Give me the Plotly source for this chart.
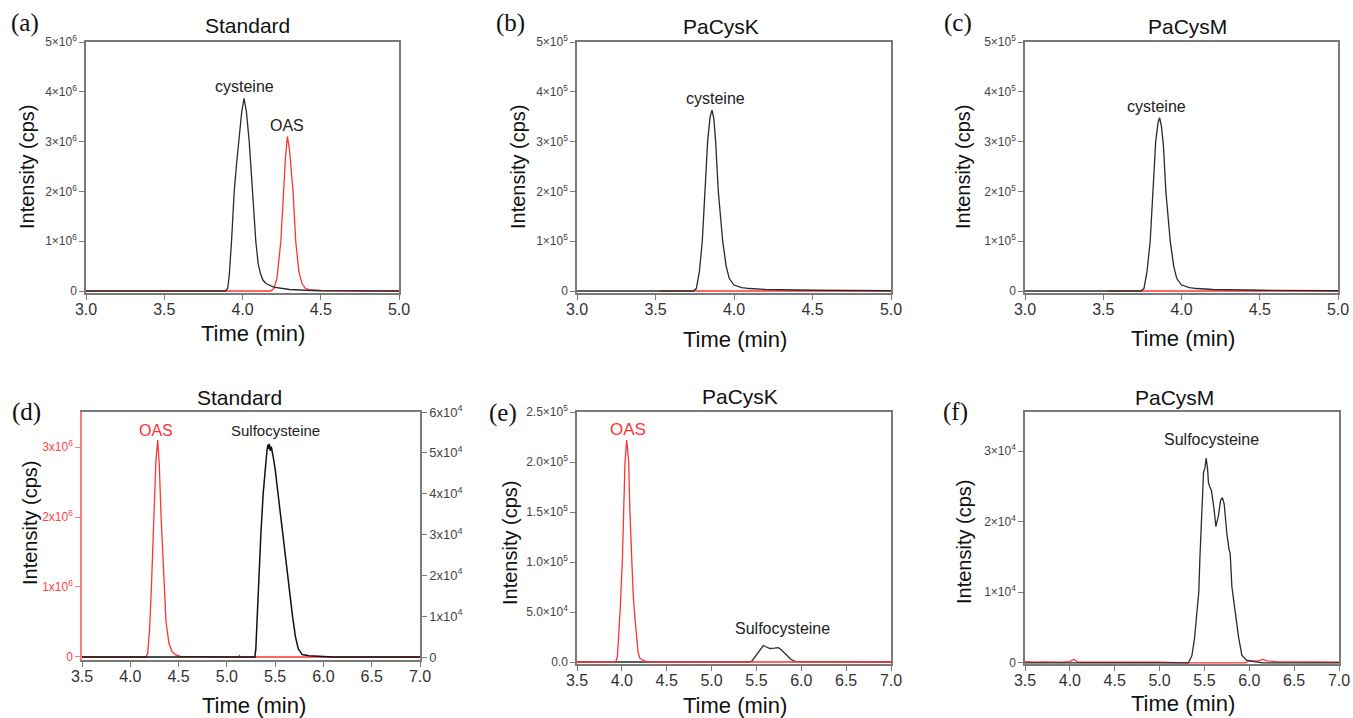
import plotly.graph_objects as go

W, H = 1353, 718
FONT = "Arial, Liberation Sans, sans-serif"
SERIF = "Times New Roman, Liberation Serif, serif"
BLACK = "#2b2b2b"
RED = "#ff3333"
AXIS = "#7a7a7a"

# ---------------- (a) Standard, cysteine / OAS ----------------
a_time_cys = [3.00, 3.89, 3.905, 3.915, 3.93, 3.947, 3.962, 3.977, 3.995, 4.01, 4.025, 4.043,
              4.064, 4.085, 4.10, 4.115, 4.13, 4.15, 4.20, 4.25, 4.30, 4.40, 4.50, 5.00]
a_cys = [0, 0, 0.05e6, 0.3e6, 1.0e6, 2.0e6, 2.55e6, 3.0e6, 3.6e6, 3.87e6, 3.6e6, 3.0e6,
         2.0e6, 1.0e6, 0.55e6, 0.35e6, 0.22e6, 0.15e6, 0.08e6, 0.05e6, 0.03e6, 0.015e6, 0.005e6, 0]
a_time_oas = [3.00, 4.18, 4.20, 4.22, 4.245, 4.262, 4.275, 4.287, 4.30, 4.323, 4.34, 4.36,
              4.38, 4.40, 4.43, 4.50, 5.00]
a_oas = [0, 0, 0.05e6, 0.25e6, 1.0e6, 2.0e6, 2.7e6, 3.1e6, 2.85e6, 2.0e6, 1.0e6, 0.4e6,
         0.15e6, 0.06e6, 0.02e6, 0.01e6, 0]

# ---------------- (b) PaCysK, cysteine ----------------
b_time_cys = [3.00, 3.74, 3.76, 3.78, 3.798, 3.815, 3.832, 3.848, 3.86, 3.872, 3.883, 3.90,
              3.928, 3.95, 3.97, 4.00, 4.05, 4.10, 4.20, 4.50, 5.00]
b_cys = [0, 0, 0.05e5, 0.4e5, 1.0e5, 2.0e5, 3.0e5, 3.5e5, 3.63e5, 3.45e5, 3.0e5, 2.0e5,
         1.0e5, 0.5e5, 0.25e5, 0.12e5, 0.07e5, 0.05e5, 0.03e5, 0.015e5, 0.005e5]
b_time_oas = [3.53, 5.00]
b_oas = [0, 0]

# ---------------- (c) PaCysM, cysteine ----------------
c_time_cys = [3.00, 3.74, 3.76, 3.78, 3.80, 3.817, 3.835, 3.85, 3.86, 3.872, 3.885, 3.90,
              3.928, 3.95, 3.97, 4.00, 4.05, 4.10, 4.20, 4.50, 5.00]
c_cys = [0, 0, 0.05e5, 0.4e5, 1.0e5, 2.0e5, 3.0e5, 3.38e5, 3.48e5, 3.3e5, 2.9e5, 2.0e5,
         1.0e5, 0.5e5, 0.25e5, 0.12e5, 0.07e5, 0.05e5, 0.03e5, 0.015e5, 0.005e5]
c_time_oas = [3.53, 5.00]
c_oas = [0, 0]

# ---------------- (d) Standard, OAS (left axis) / sulfocysteine (right axis) ----------------
d_time_oas = [3.50, 4.16, 4.18, 4.20, 4.219, 4.246, 4.265, 4.284, 4.30, 4.319, 4.35, 4.37,
              4.40, 4.43, 4.47, 4.52, 5.12, 5.13, 5.14, 7.00]
d_oas = [0, 0, 0.05e6, 0.4e6, 1.0e6, 2.0e6, 2.8e6, 3.1e6, 2.75e6, 2.0e6, 1.0e6, 0.5e6,
         0.2e6, 0.08e6, 0.03e6, 0.01e6, 0, 0.02e6, 0, 0]
d_time_sulfo = [3.50, 5.29, 5.30, 5.314, 5.33, 5.352, 5.376, 5.40, 5.415, 5.425, 5.435, 5.44,
                5.45, 5.46, 5.47, 5.48, 5.50, 5.515, 5.53, 5.555, 5.577, 5.60, 5.625, 5.65,
                5.68, 5.71, 5.74, 5.78, 5.85, 6.00, 6.10, 7.00]
d_sulfo = [0, 0, 0.2e4, 1.0e4, 2.0e4, 3.0e4, 4.0e4, 4.8e4, 5.05e4, 5.2e4, 5.1e4, 5.22e4,
           5.05e4, 5.15e4, 4.95e4, 4.9e4, 4.6e4, 4.3e4, 4.0e4, 3.5e4, 3.0e4, 2.5e4, 2.0e4, 1.5e4,
           1.0e4, 0.5e4, 0.2e4, 0.06e4, 0.03e4, 0.01e4, 0, 0]

# ---------------- (e) PaCysK, OAS / sulfocysteine ----------------
e_time_oas = [3.50, 3.93, 3.95, 3.97, 3.98, 4.005, 4.02, 4.035, 4.054, 4.076, 4.09, 4.109,
              4.125, 4.14, 4.16, 4.18, 4.20, 4.25, 4.30, 7.00]
e_oas = [0, 0, 0.05e5, 0.3e5, 0.5e5, 1.0e5, 1.5e5, 2.0e5, 2.22e5, 2.0e5, 1.5e5, 1.0e5,
         0.7e5, 0.5e5, 0.25e5, 0.1e5, 0.04e5, 0.01e5, 0, 0]
e_time_sulfo = [3.50, 5.42, 5.45, 5.50, 5.55, 5.577, 5.60, 5.65, 5.70, 5.745, 5.78, 5.83,
                5.88, 5.92, 5.95, 6.20, 7.00]
e_sulfo = [0, 0, 0.1e4, 0.7e4, 1.4e4, 1.65e4, 1.55e4, 1.35e4, 1.38e4, 1.43e4, 1.2e4, 0.7e4,
           0.3e4, 0.08e4, 0.03e4, 0.01e4, 0]

# ---------------- (f) PaCysM, sulfocysteine ----------------
f_time_sulfo = [3.50, 5.32, 5.36, 5.39, 5.415, 5.437, 5.45, 5.464, 5.478, 5.49, 5.505, 5.519,
                5.535, 5.545, 5.56, 5.578, 5.605, 5.628, 5.64, 5.655, 5.68, 5.70, 5.72, 5.75,
                5.775, 5.787, 5.806, 5.843, 5.88, 5.917, 5.97, 6.05, 6.15, 7.00]
f_sulfo = [0, 0, 0.1e4, 0.35e4, 0.7e4, 1.0e4, 1.5e4, 2.0e4, 2.45e4, 2.7e4, 2.75e4, 2.9e4,
           2.75e4, 2.55e4, 2.49e4, 2.44e4, 2.2e4, 1.93e4, 2.0e4, 2.07e4, 2.3e4, 2.34e4, 2.25e4, 1.83e4,
           1.6e4, 1.55e4, 1.08e4, 0.7e4, 0.37e4, 0.11e4, 0.04e4, 0.02e4, 0, 0]
f_time_oas = [3.50, 3.60, 3.70, 3.90, 4.00, 4.04, 4.06, 4.09, 4.30, 4.70, 5.00, 5.30, 5.95,
              6.00, 6.10, 6.15, 6.20, 6.30, 6.50, 6.70, 7.00]
f_oas = [200, 100, 150, 100, 200, 500, 400, 100, 100, 150, 100, 0, 0,
         300, 300, 500, 300, 200, 200, 100, 100]

# ---------------- tick labels ----------------
y_ticks_a = [0, 1e6, 2e6, 3e6, 4e6, 5e6]
y_text_a = ["0", "1×10<sup>6</sup>", "2×10<sup>6</sup>", "3×10<sup>6</sup>", "4×10<sup>6</sup>", "5×10<sup>6</sup>"]
y_ticks_bc = [0, 1e5, 2e5, 3e5, 4e5, 5e5]
y_text_bc = ["0", "1×10<sup>5</sup>", "2×10<sup>5</sup>", "3×10<sup>5</sup>", "4×10<sup>5</sup>", "5×10<sup>5</sup>"]
y_ticks_d_left = [0, 1e6, 2e6, 3e6]
y_text_d_left = ["0", "1x10<sup>6</sup>", "2x10<sup>6</sup>", "3x10<sup>6</sup>"]
y_ticks_d_right = [0, 1e4, 2e4, 3e4, 4e4, 5e4, 6e4]
y_text_d_right = ["0", "1x10<sup>4</sup>", "2x10<sup>4</sup>", "3x10<sup>4</sup>", "4x10<sup>4</sup>",
                  "5x10<sup>4</sup>", "6x10<sup>4</sup>"]
y_ticks_e = [0, 5e4, 1e5, 1.5e5, 2e5, 2.5e5]
y_text_e = ["0.0", "5.0×10<sup>4</sup>", "1.0×10<sup>5</sup>", "1.5×10<sup>5</sup>", "2.0×10<sup>5</sup>",
            "2.5×10<sup>5</sup>"]
y_ticks_f = [0, 1e4, 2e4, 3e4]
y_text_f = ["0", "1×10<sup>4</sup>", "2×10<sup>4</sup>", "3×10<sup>4</sup>"]
x_ticks_top = [3.0, 3.5, 4.0, 4.5, 5.0]
x_ticks_bottom = [3.5, 4.0, 4.5, 5.0, 5.5, 6.0, 6.5, 7.0]

panel_titles = ["Standard", "PaCysK", "PaCysM", "Standard", "PaCysK", "PaCysM"]
panel_letters = ["(a)", "(b)", "(c)", "(d)", "(e)", "(f)"]


def px_x(p):
    return p / W


def px_y(p):
    return 1 - p / H


# plot boxes in pixels: (left, right, top, bottom)
boxes = [(86, 399, 42, 293), (577, 891, 42, 293), (1025, 1338, 42, 293),
         (82, 420, 412, 660), (577, 891, 412, 664), (1025, 1339, 412, 664)]

fig = go.Figure()


def line(x, y, color, xa, ya, width=1.3):
    fig.add_trace(go.Scatter(x=x, y=y, mode="lines", line=dict(color=color, width=width),
                             xaxis=xa, yaxis=ya, showlegend=False, hoverinfo="skip"))


# red drawn first so the black trace sits on top where they share the baseline
line(a_time_oas, a_oas, RED, "x", "y")
line(a_time_cys, a_cys, BLACK, "x", "y")
line(b_time_oas, b_oas, RED, "x2", "y2")
line(b_time_cys, b_cys, BLACK, "x2", "y2")
line(c_time_oas, c_oas, RED, "x3", "y3")
line(c_time_cys, c_cys, BLACK, "x3", "y3")
line(d_time_sulfo, d_sulfo, "#111111", "x4", "y7", 1.5)
line(d_time_oas, d_oas, RED, "x4", "y4")
line(e_time_sulfo, e_sulfo, BLACK, "x5", "y5")
line(e_time_oas, e_oas, RED, "x5", "y5")
line(f_time_oas, f_oas, RED, "x6", "y6")
line(f_time_sulfo, f_sulfo, BLACK, "x6", "y6")

common = dict(showgrid=False, zeroline=False, showline=True, linecolor=AXIS, linewidth=1.5,
              ticks="outside", ticklen=5, tickwidth=1.2, tickcolor=AXIS, automargin=False)

x_ranges = [[3, 5]] * 3 + [[3.5, 7]] * 3
y_ranges = [[-4e4, 5e6], [-4e3, 5e5], [-4e3, 5e5], [-4.3e4, 3.5e6], [-2e3, 2.5e5], [-150, 35520]]
y_tick_sets = [(y_ticks_a, y_text_a), (y_ticks_bc, y_text_bc), (y_ticks_bc, y_text_bc),
               (y_ticks_d_left, y_text_d_left), (y_ticks_e, y_text_e), (y_ticks_f, y_text_f)]

layout = {}
for i, (l, r, t, b) in enumerate(boxes):
    n = "" if i == 0 else str(i + 1)
    xt = x_ticks_top if i < 3 else x_ticks_bottom
    layout["xaxis" + n] = dict(common, domain=[px_x(l), px_x(r)], range=x_ranges[i],
                               anchor="y" + n, mirror=True, tickvals=xt,
                               ticktext=["%.1f" % v for v in xt], ticklabelstandoff=-4,
                               tickfont=dict(family=FONT, size=16, color="#333333"))
    tv, tt = y_tick_sets[i]
    yax = dict(common, domain=[px_y(b), px_y(t)], range=y_ranges[i], anchor="x" + n,
               mirror=True, tickvals=tv, ticktext=tt,
               tickfont=dict(family=FONT, size=12, color="#444444"))
    if i == 3:
        yax.update(mirror=False, linecolor="#ff7a7a", tickcolor="#ff7a7a",
                   tickfont=dict(family=FONT, size=12, color="#ff4444"))
    layout["yaxis" + n] = yax

l, r, t, b = boxes[3]
layout["yaxis7"] = dict(common, domain=[px_y(b), px_y(t)], range=[-735, 6e4], anchor="x4",
                        overlaying="y4", side="right", tickvals=y_ticks_d_right,
                        ticktext=y_text_d_right,
                        tickfont=dict(family=FONT, size=13, color="#444444"))

annotations = []
title_pos = [(247, 25), (721, 27), (1187, 27), (239, 397), (740, 396), (1174, 397)]
letter_pos = [(25, 23), (510, 23), (958, 23), (26, 412), (503, 413), (955, 412)]
xtitle_pos = [(253, 333), (735, 339), (1183, 338), (254, 705), (735, 705), (1183, 703)]
ytitle_pos = [(27, 167), (518, 167), (963, 167), (30, 523), (510, 543), (964, 542)]


def paper_text(text, pos, font, angle=0):
    annotations.append(dict(text=text, x=px_x(pos[0]), y=px_y(pos[1]), xref="paper", yref="paper",
                            xanchor="center", yanchor="middle", showarrow=False,
                            textangle=angle, font=font))


for i in range(6):
    paper_text(panel_titles[i], title_pos[i], dict(family=FONT, size=21, color="#111111"))
    paper_text(panel_letters[i], letter_pos[i], dict(family=SERIF, size=25, color="#111111"))
    paper_text("Time (min)", xtitle_pos[i], dict(family=FONT, size=22, color="#111111"))
    paper_text("Intensity (cps)", ytitle_pos[i], dict(family=FONT, size=20, color="#111111"), -90)

peak_labels = [
    ("cysteine", 4.01, 4.1e6, "x", "y", "#222222", 16),
    ("OAS", 4.287, 3.32e6, "x", "y", "#222222", 16),
    ("cysteine", 3.879, 3.86e5, "x2", "y2", "#222222", 16),
    ("cysteine", 3.843, 3.71e5, "x3", "y3", "#222222", 16),
    ("OAS", 4.267, 3.24e6, "x4", "y4", RED, 16),
    ("Sulfocysteine", 5.508, 3.24e6, "x4", "y4", "#222222", 15),
    ("OAS", 4.072, 2.327e5, "x5", "y5", RED, 17),
    ("Sulfocysteine", 5.789, 0.333e5, "x5", "y5", "#222222", 16),
    ("Sulfocysteine", 5.575, 3.16e4, "x6", "y6", "#222222", 16),
]
for text, x, y, xr, yr, col, size in peak_labels:
    annotations.append(dict(text=text, x=x, y=y, xref=xr, yref=yr, showarrow=False,
                            xanchor="center", yanchor="middle",
                            font=dict(family=FONT, size=size, color=col)))

fig.update_layout(width=W, height=H, margin=dict(l=0, r=0, t=0, b=0),
                  paper_bgcolor="white", plot_bgcolor="white",
                  annotations=annotations, **layout)

fig.write_html("out.html")
